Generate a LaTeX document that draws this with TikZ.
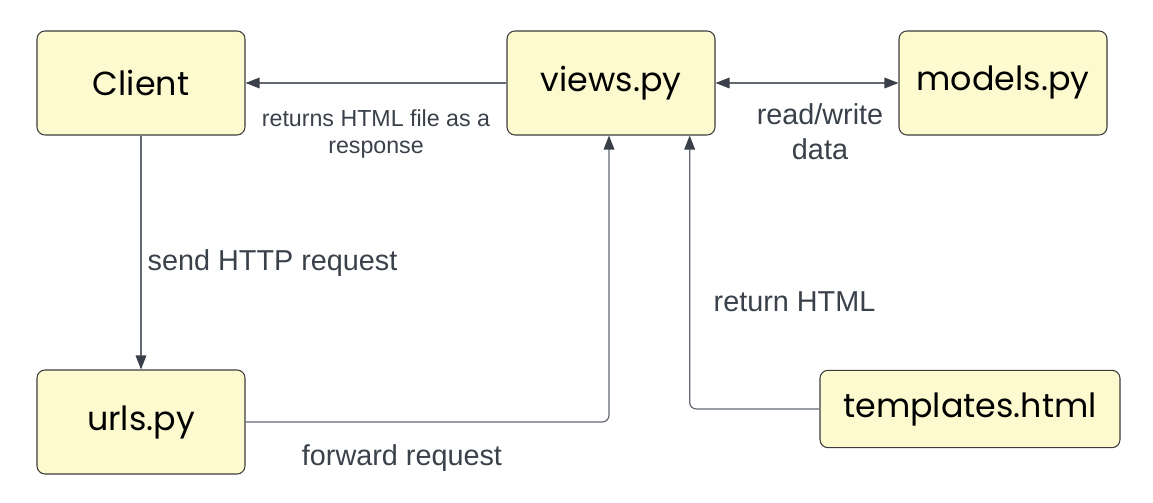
\documentclass[tikz,border=0pt]{standalone}
\usepackage{fontspec}
\setmainfont{Liberation Sans}
\newfontfamily\boxfont{Poppins}
\usetikzlibrary{positioning,arrows.meta}
\definecolor{boxfill}{HTML}{FDFACF}
\definecolor{boxline}{HTML}{3C3C3C}
\definecolor{wire}{HTML}{626973}
\definecolor{tipcol}{HTML}{3A4049}
\definecolor{labeltext}{HTML}{3A414A}
\tikzstyle{flow}=[
  x=0.75pt,y=-0.75pt,>={Triangle[length=10.5pt,width=8pt,color=tipcol]}
]
\tikzstyle{module}=[
  draw=boxline,fill=boxfill,line width=0.8pt,rounded corners=6pt,
  minimum width=156pt,minimum height=78pt,font=\boxfont\fontsize{25}{30}\selectfont
]
\tikzstyle{wireline}=[
  draw=wire,line width=0.9pt,rounded corners=5pt
]
\tikzstyle{note}=[
  text=labeltext,font=\fontsize{21.6}{26}\selectfont,align=center
]

\begin{document}
\begin{tikzpicture}[flow]
    \useasboundingbox (0,0) rectangle (1153,503);
    % boxes
    \node[module] (client) at (141,83) {Client};
    \node[module] (views) at (611,83) {views.py};
    \node[module] (models) at (1003,83) {models.py};
    \node[module] (urls) at (141,422) {urls.py};
    \node[module,minimum width=225pt,minimum height=58pt] (templates) at (970,409) {templates.html};
    % connectors
    \draw[wireline,->] (views) -- (client);
    \draw[wireline,<->] (views) -- (models);
    \draw[wireline,->] (client) -- (urls);
    \draw[wireline,->] (urls.east) -| ([xshift=-1.5pt]views.south);
    \draw[wireline,->] (templates.west) -| ([xshift=59pt]views.south);
    % labels
    \node[note,font=\fontsize{17.4}{20}\selectfont] (retlbl) at (376,134) {returns HTML file as a\\response};
    \node[note] (rwlbl) at (820,132) {read/write\\data};
    \node[note,anchor=west] (sendlbl) at (143,263) {send HTTP request};
    \node[note] (fwdlbl) at (402,458) {forward request};
    \node[note,anchor=west] (htmllbl) at (709,302) {return HTML};
\end{tikzpicture}
\end{document}
